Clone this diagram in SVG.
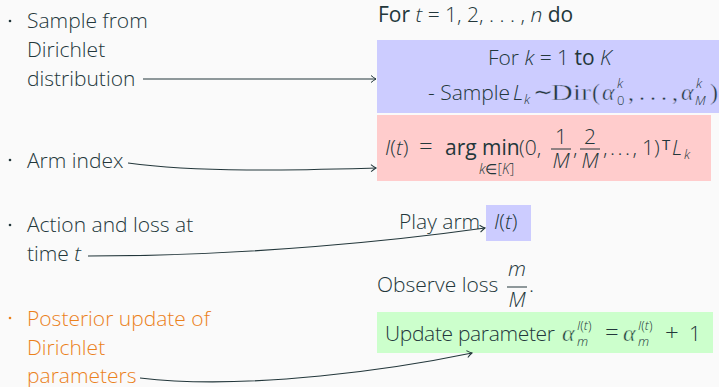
<svg xmlns="http://www.w3.org/2000/svg" width="719" height="387" viewBox="0 0 719 387">
<style>
.t{font-family:"Open Sans","Noto Sans",sans-serif;font-weight:300;font-size:21px;fill:#23373B}
.o{fill:#EB811B}
.r{font-weight:400}
.i{font-style:italic}
.s{font-family:"Liberation Serif","Times New Roman",serif;font-weight:400;font-size:24px;fill:#23373B;stroke-width:0.45}
.sb{stroke:#CCCCFF}
.sg{stroke:#CCFFCC}
.sm{font-size:13px}
.c{fill:none;stroke:#23373B;stroke-width:1.1}
.bar{stroke:#23373B;stroke-width:1}
</style>
<defs>
<marker id="a" markerWidth="10" markerHeight="10" refX="7" refY="5" orient="auto" markerUnits="userSpaceOnUse">
<path d="M2,1.5 Q5,4 7,5 Q5,6 2,8.5" fill="none" stroke="#23373B" stroke-width="1"/>
</marker>
</defs>
<rect width="719" height="387" fill="#FAFAFA"/>

<g id="left-sample">
<circle cx="10" cy="21" r="1.3" fill="#23373B"/>
<text class="t" x="27" y="28">Sample from</text>
<text class="t" x="27" y="57">Dirichlet</text>
<text class="t" x="27" y="86">distribution</text>
</g>
<g id="left-arm">
<circle cx="10" cy="160" r="1.3" fill="#23373B"/>
<text class="t" x="27" y="168">Arm index</text>
</g>
<g id="left-action">
<circle cx="10" cy="225" r="1.3" fill="#23373B"/>
<text class="t" x="27" y="232">Action and loss at</text>
<text class="t" x="27" y="261">time <tspan class="i">t</tspan></text>
</g>
<g id="left-posterior">
<circle cx="10" cy="318" r="1.3" fill="#EB811B"/>
<text class="t o" x="27" y="326">Posterior update of</text>
<text class="t o" x="27" y="355">Dirichlet</text>
<text class="t o" x="27" y="383">parameters</text>
</g>

<g id="for-loop">
<text class="t" x="378" y="22"><tspan class="r">For</tspan> <tspan class="i">t</tspan> = 1, 2, . . . , <tspan class="i">n</tspan> <tspan class="r">do</tspan></text>
</g>

<g id="sample-box">
<rect x="377" y="40" width="342" height="73" fill="#CCCCFF"/>
<text class="t" x="488" y="65">For <tspan class="i">k</tspan> = 1 <tspan class="r">to</tspan> <tspan class="i">K</tspan></text>
<text class="t" x="428" y="100">- Sample</text>
<text class="t i" x="513" y="100">L</text>
<text class="t i sm" x="524" y="104">k</text>
<text class="s sb" x="533" y="100">∼</text>
<text class="s sb" x="551" y="100" textLength="40" lengthAdjust="spacingAndGlyphs">Dir</text>
<text class="s sb" x="592" y="100">(</text>
<text class="s sb i" x="602" y="100">α</text>
<text class="t sm" x="617" y="105">0</text>
<text class="t sm i" x="617" y="88">k</text>
<text class="s sb" x="628" y="100" textLength="50">, . . . ,</text>
<text class="s sb i" x="681" y="100">α</text>
<text class="t sm i" x="695" y="105">M</text>
<text class="t sm i" x="696" y="88">k</text>
<text class="s sb" x="710" y="100">)</text>
</g>

<g id="arm-box">
<rect x="377" y="115" width="334" height="66" fill="#FFCCCC"/>
<text class="t" x="385" y="155"><tspan class="i">I</tspan>(<tspan class="i">t</tspan>)</text>
<text class="t" x="419" y="155" style="font-size:24px">=</text>
<text class="t r" x="445" y="155">arg min</text>
<text class="t" x="479" y="174" style="font-size:14px"><tspan class="i">k</tspan>∈[<tspan class="i">K</tspan>]</text>
<text class="t" x="519" y="155">(0,</text>
<text class="t" x="561" y="144" text-anchor="middle">1</text>
<line class="bar" x1="551" y1="149" x2="571" y2="149"/>
<text class="t i" x="561" y="168" text-anchor="middle">M</text>
<text class="t" x="573" y="155">,</text>
<text class="t" x="590" y="144" text-anchor="middle">2</text>
<line class="bar" x1="580" y1="149" x2="600" y2="149"/>
<text class="t i" x="590" y="168" text-anchor="middle">M</text>
<text class="t" x="603" y="155" textLength="34">, . . . ,</text>
<text class="t" x="642" y="155">1)</text>
<text class="t r" x="662" y="150" style="font-size:15px">T</text>
<text class="t i" x="672" y="155">L</text>
<text class="t i sm" x="684" y="159">k</text>
</g>

<g id="play-arm">
<text class="t" x="399" y="229">Play arm</text>
<rect x="486" y="205" width="45" height="36" fill="#CCCCFF"/>
<text class="t" x="494" y="229"><tspan class="i">I</tspan>(<tspan class="i">t</tspan>)</text>
</g>

<g id="observe">
<text class="t" x="377" y="292">Observe loss</text>
<text class="t i" x="517" y="276" text-anchor="middle">m</text>
<line class="bar" x1="507" y1="287" x2="527" y2="287"/>
<text class="t i" x="517" y="307" text-anchor="middle">M</text>
<text class="t" x="529" y="292">.</text>
</g>

<g id="update-box">
<rect x="377" y="312" width="336" height="41" fill="#CCFFCC"/>
<text class="t" x="385" y="341" textLength="170">Update parameter</text>
<text class="s sg i" x="562" y="341">α</text>
<text class="t sm i" x="577" y="346">m</text>
<text class="t sm" x="577" y="330"><tspan class="i">I</tspan>(<tspan class="i">t</tspan>)</text>
<text class="t" x="605" y="341" style="font-size:24px">=</text>
<text class="s sg i" x="623" y="341">α</text>
<text class="t sm i" x="638" y="346">m</text>
<text class="t sm" x="638" y="330"><tspan class="i">I</tspan>(<tspan class="i">t</tspan>)</text>
<text class="t" x="665" y="341" style="font-size:24px">+</text>
<text class="t" x="689" y="341">1</text>
</g>

<g id="connectors">
<path class="c" d="M143,79 L376,79" marker-end="url(#a)"/>
<path class="c" d="M128,163 C200,173 300,170 376,168" marker-end="url(#a)"/>
<path class="c" d="M88,256 C250,256 400,240 485,228" marker-end="url(#a)"/>
<path class="c" d="M140,378 C250,391 400,368 472,353" marker-end="url(#a)"/>
</g>
</svg>
